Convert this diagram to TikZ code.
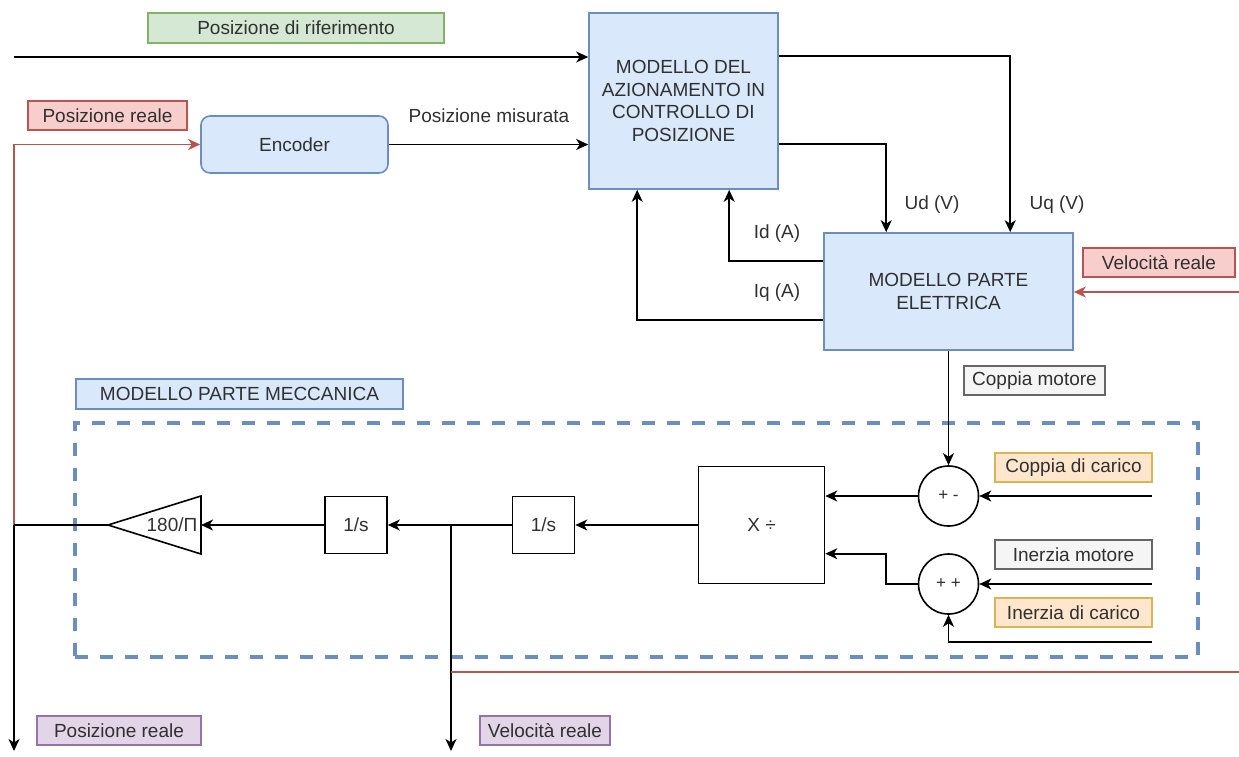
\documentclass[tikz,border=0pt]{standalone}
\usepackage{fontspec}
\setmainfont{Liberation Sans}
\usetikzlibrary{arrows.meta,calc}
\definecolor{gfill}{HTML}{D5E8D4}\definecolor{gline}{HTML}{82B366}
\definecolor{rfill}{HTML}{F8CECC}\definecolor{rline}{HTML}{B85450}
\definecolor{bfill}{HTML}{DAE8FC}\definecolor{bline}{HTML}{6C8EBF}
\definecolor{pfill}{HTML}{E1D5E7}\definecolor{pline}{HTML}{9673A6}
\definecolor{ofill}{HTML}{FFE6CC}\definecolor{oline}{HTML}{D6B656}
\definecolor{yfill}{HTML}{F5F5F5}\definecolor{yline}{HTML}{666666}
\definecolor{txt}{HTML}{303030}
\begin{document}
\begin{tikzpicture}[x=1pt,y=-1pt,
  font=\fontsize{19}{22.5}\selectfont, text=txt,
  box/.style={draw, line width=1.6pt, inner sep=0pt, align=center},
  tag/.style={box, line width=1.3pt},
  green/.style={tag, fill=gfill, draw=gline},
  redb/.style={tag, fill=rfill, draw=rline},
  blue/.style={box, fill=bfill, draw=bline},
  purple/.style={tag, fill=pfill, draw=pline},
  orange/.style={tag, fill=ofill, draw=oline},
  grey/.style={tag, fill=yfill, draw=yline},
  plain/.style={box, draw=black, fill=white},
  lbl/.style={inner sep=0pt},
  arr/.style={draw=black, line width=1.8pt, -{Stealth[length=12pt,width=11pt,inset=3.5pt]}},
  ln/.style={draw=black, line width=1.8pt},
  rarr/.style={draw=rline, line width=1.4pt, -{Stealth[length=12pt,width=11pt,inset=3.5pt]}},
  rln/.style={draw=rline, line width=1.4pt}]
\useasboundingbox (0,0) rectangle (1239,756);

% dashed mechanical region
\node[draw=bline, line width=3.8pt, dash pattern=on 13pt off 12pt, minimum width=1123pt, minimum height=234pt, inner sep=0pt] (mech) at (636.5,540) {};

% labels / boxes
\node[green, minimum width=296pt, minimum height=30pt] (ref) at (296,28) {Posizione di riferimento};
\node[blue, minimum width=189pt, minimum height=176pt] (main) at (683.5,101) {MODELLO DEL\\AZIONAMENTO IN\\CONTROLLO DI\\POSIZIONE};
\node[redb, minimum width=159pt, minimum height=29pt] (posreal) at (107.5,115.5) {Posizione reale};
\node[blue, rounded corners=9pt, minimum width=187pt, minimum height=57pt] (enc) at (294.5,144.5) {Encoder};
\node[blue, minimum width=249pt, minimum height=117pt] (elec) at (948.5,291.5) {MODELLO PARTE\\ELETTRICA};
\node[redb, minimum width=152pt, minimum height=29pt] (velreal) at (1159,262.5) {Velocità reale};
\node[blue, line width=1.3pt, minimum width=327pt, minimum height=30pt] (meclbl) at (239.5,394) {MODELLO PARTE MECCANICA};
\node[grey, minimum width=141pt, minimum height=29pt] (cmot) at (1034.5,380.5) {Coppia motore};
\node[orange, minimum width=157pt, minimum height=29pt] (cdc) at (1073.5,467.5) {Coppia di carico};
\node[grey, minimum width=157pt, minimum height=29pt] (imot) at (1073.5,554.5) {Inerzia motore};
\node[orange, minimum width=157pt, minimum height=29pt] (idc) at (1073.5,612.5) {Inerzia di carico};
\node[plain, circle, minimum size=60pt, font=\fontsize{17}{20}\selectfont] (sum1) at (948.5,496) {+ -};
\node[plain, circle, minimum size=60pt, font=\fontsize{17}{20}\selectfont] (sum2) at (948.5,584) {+ +};
\node[plain, minimum width=126pt, minimum height=117pt] (xd) at (761.5,525) {X ÷};
\node[plain, minimum width=62pt, minimum height=57pt] (s2) at (543.5,525) {1/s};
\node[plain, minimum width=62pt, minimum height=57pt] (s1) at (356,525) {1/s};
\draw[line width=1.6pt] (201,496) -- (201,554) -- (108,525) -- cycle;
\coordinate (triR) at (201,525);
\coordinate (triL) at (108,525);
\node[lbl] (gain) at (172,525) {180/Π};
\node[purple, minimum width=164pt, minimum height=29pt] (posout) at (119,730.5) {Posizione reale};
\node[purple, minimum width=130pt, minimum height=29pt] (velout) at (545,730.5) {Velocità reale};

% text labels
\node[lbl] (tmis) at (489,116) {Posizione misurata};
\node[lbl] (tud) at (932,205) {Ud (V)};
\node[lbl] (tuq) at (1057,205) {Uq (V)};
\node[lbl] (tid) at (777,234) {Id (A)};
\node[lbl] (tiq) at (777,293) {Iq (A)};

% coordinates of free ends
\coordinate (inref) at (14,57);
\coordinate (jpos) at (14,525);
\coordinate (outpos) at (14,751);
\coordinate (vj) at (451,525);
\coordinate (vr) at (451,672);
\coordinate (outvel) at (451,751);
\coordinate (vredge) at (1239,672);
\coordinate (velin) at (1239,292);
\coordinate (cdcin) at (1152,496);
\coordinate (imotin) at (1152,584);
\coordinate (idcin) at (1152,642);

% connectors
\draw[arr] (inref) -- (inref -| main.west);
\draw[arr] (enc.east) -- (enc.east -| main.west);
\draw[rarr] (jpos) |- (enc.west);
\draw[ln] (triL) -- (jpos);
\draw[arr] (jpos) -- (outpos);
\draw[arr] ([yshift=-44pt]main.north east) -| ([xshift=187pt]elec.north west);
\draw[arr] ([yshift=-132pt]main.north east) -| ([xshift=63pt]elec.north west);
\draw[arr] ([yshift=-29pt]elec.north west) -| ([xshift=141pt]main.south west);
\draw[arr] ([yshift=-88pt]elec.north west) -| ([xshift=49pt]main.south west);
\draw[rarr] (velin) -- (velin -| elec.east);
\draw[arr] (elec.south) -- (sum1.north);
\draw[arr] (cdcin) -- (sum1.east);
\draw[arr] (imotin) -- (sum2.east);
\draw[arr] (idcin) -| (sum2.south);
\draw[arr] (sum1.west) -- (sum1.west -| xd.east);
\draw[arr] (sum2.west) -- ++(-32,0) |- ([yshift=-88pt]xd.north east);
\draw[arr] (xd.west) -- (s2.east);
\draw[arr] (s2.west) -- (s1.east);
\draw[arr] (s1.west) -- (triR);
\draw[arr] (vj) -- (outvel);
\draw[rln] (vr) -- (vredge);
\end{tikzpicture}
\end{document}
